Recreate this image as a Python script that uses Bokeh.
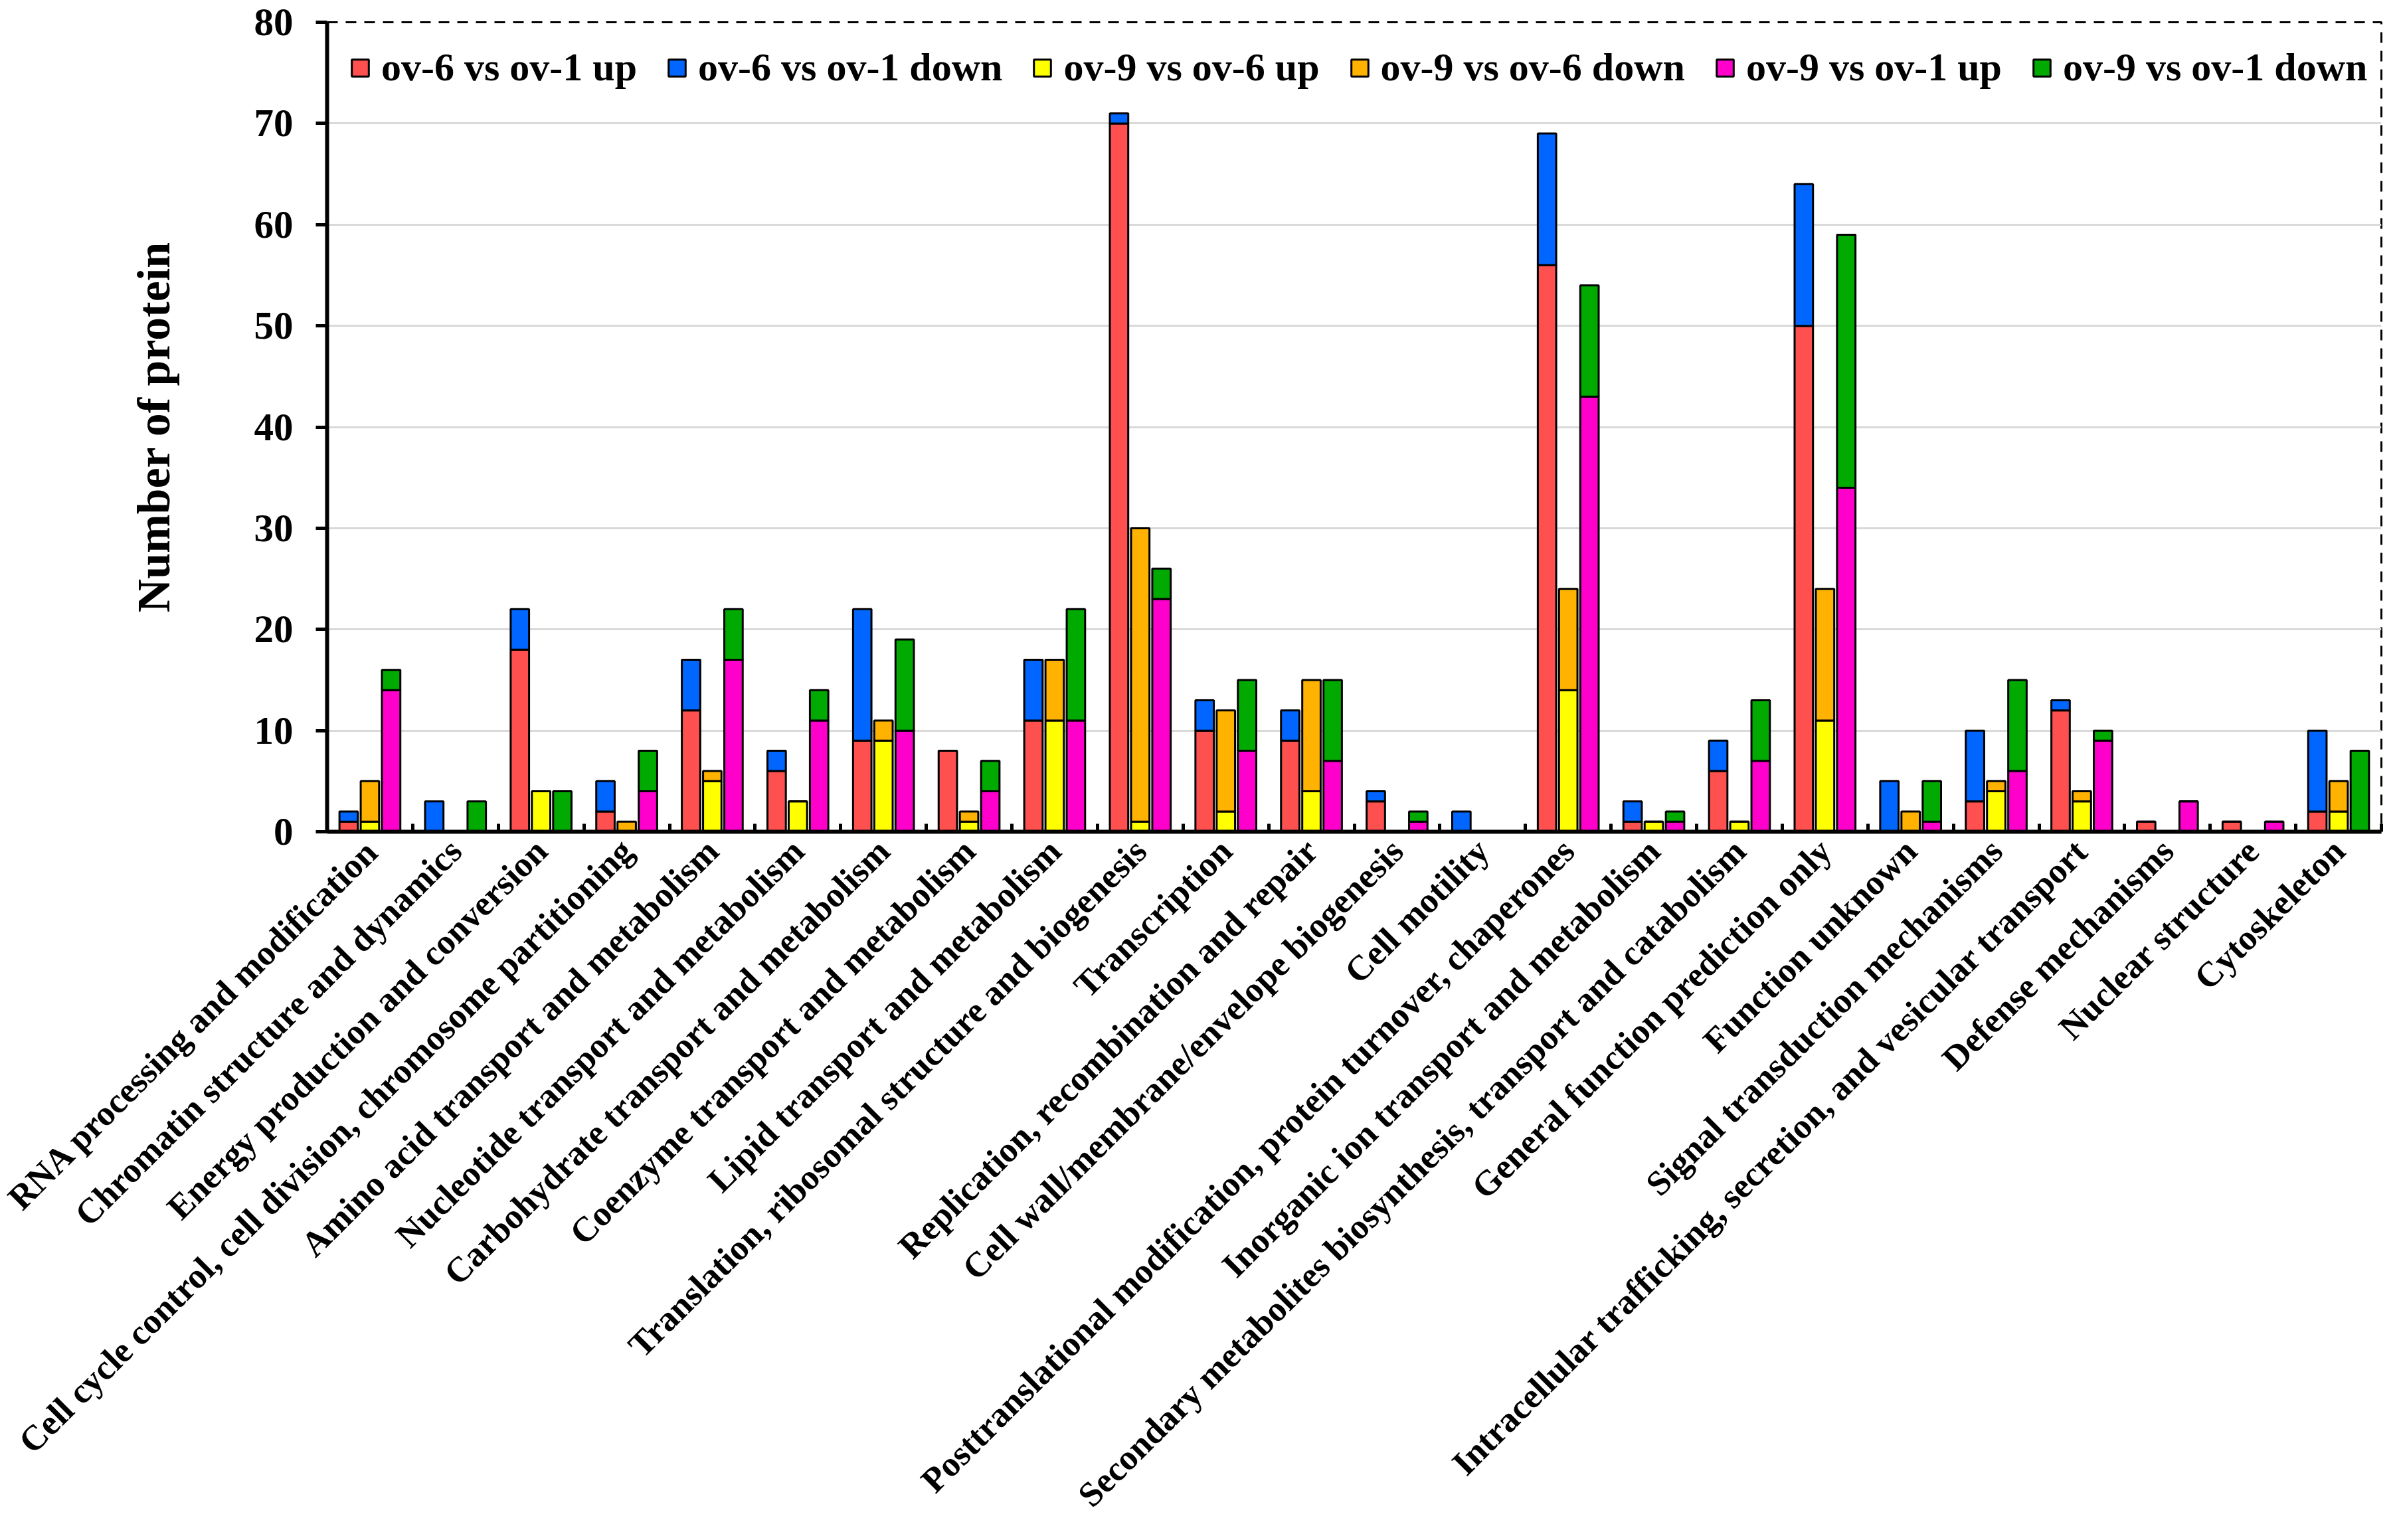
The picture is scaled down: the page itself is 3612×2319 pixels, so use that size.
from bokeh.plotting import figure
from bokeh.models import Range1d, FixedTicker, ColumnDataSource, Legend
from bokeh.embed import file_html
from bokeh.resources import INLINE

categories = [
    "RNA processing and modification",
    "Chromatin structure and dynamics",
    "Energy production and conversion",
    "Cell cycle control, cell division, chromosome partitioning",
    "Amino acid transport and metabolism",
    "Nucleotide transport and metabolism",
    "Carbohydrate transport and metabolism",
    "Coenzyme transport and metabolism",
    "Lipid transport and metabolism",
    "Translation, ribosomal structure and biogenesis",
    "Transcription",
    "Replication, recombination and repair",
    "Cell wall/membrane/envelope biogenesis",
    "Cell motility",
    "Posttranslational modification, protein turnover, chaperones",
    "Inorganic ion transport and metabolism",
    "Secondary metabolites biosynthesis, transport and catabolism",
    "General function prediction only",
    "Function unknown",
    "Signal transduction mechanisms",
    "Intracellular trafficking, secretion, and vesicular transport",
    "Defense mechanisms",
    "Nuclear structure",
    "Cytoskeleton",
]

ov6_ov1_up   = [1, 0, 18, 2, 12, 6, 9, 8, 11, 70, 10, 9, 3, 0, 56, 1, 6, 50, 0, 3, 12, 1, 1, 2]
ov6_ov1_down = [1, 3, 4, 3, 5, 2, 13, 0, 6, 1, 3, 3, 1, 2, 13, 2, 3, 14, 5, 7, 1, 0, 0, 8]
ov9_ov6_up   = [1, 0, 4, 0, 5, 3, 9, 1, 11, 1, 2, 4, 0, 0, 14, 1, 1, 11, 0, 4, 3, 0, 0, 2]
ov9_ov6_down = [4, 0, 0, 1, 1, 0, 2, 1, 6, 29, 10, 11, 0, 0, 10, 0, 0, 13, 2, 1, 1, 0, 0, 3]
ov9_ov1_up   = [14, 0, 0, 4, 17, 11, 10, 4, 11, 23, 8, 7, 1, 0, 43, 1, 7, 34, 1, 6, 9, 3, 1, 0]
ov9_ov1_down = [2, 3, 4, 4, 5, 3, 9, 3, 11, 3, 7, 8, 1, 0, 11, 1, 6, 25, 4, 9, 1, 0, 0, 8]

series_names = ["ov-6 vs ov-1 up", "ov-6 vs ov-1 down", "ov-9 vs ov-6 up",
                "ov-9 vs ov-6 down", "ov-9 vs ov-1 up", "ov-9 vs ov-1 down"]
colors = ["#FF5050", "#0066FF", "#FFFF00", "#FFB300", "#FF00CC", "#00AA00"]

y_ticks = [0, 10, 20, 30, 40, 50, 60, 70, 80]

FONT = "Liberation Serif"
n = len(categories)
idx = list(range(1, n + 1))
off = 0.248
bw = 0.215

src = ColumnDataSource(dict(
    x1=[i - off for i in idx], x2=idx, x3=[i + off for i in idx],
    a=ov6_ov1_up, b=ov6_ov1_down, c=ov9_ov6_up, d=ov9_ov6_down,
    e=ov9_ov1_up, f=ov9_ov1_down,
))

p = figure(width=3596, height=2303, x_range=Range1d(0.5, n + 0.5), y_range=Range1d(0, 80),
           output_backend="svg", toolbar_location=None)
p.min_border_left = 492
p.min_border_top = 33
p.min_border_right = 11
p.min_border_bottom = 1040
p.background_fill_color = "white"
p.border_fill_color = "white"
p.outline_line_color = "black"
p.outline_line_width = 3
p.outline_line_dash = "16 12"

r1 = p.vbar_stack(["a", "b"], x="x1", width=bw, source=src, fill_color=colors[0:2],
                  line_color="black", line_width=3)
r2 = p.vbar_stack(["c", "d"], x="x2", width=bw, source=src, fill_color=colors[2:4],
                  line_color="black", line_width=3)
r3 = p.vbar_stack(["e", "f"], x="x3", width=bw, source=src, fill_color=colors[4:6],
                  line_color="black", line_width=3)
renderers = r1 + r2 + r3

legend = Legend(items=[(nm, [r]) for nm, r in zip(series_names, renderers)],
                orientation="horizontal", location="top_left")
legend.margin = 34
legend.padding = 18
legend.spacing = 44
legend.label_standoff = 16
legend.glyph_width = 32
legend.glyph_height = 32
legend.label_height = 32
legend.label_text_font = FONT
legend.label_text_font_style = "bold"
legend.label_text_font_size = "60px"
legend.label_text_color = "black"
legend.border_line_color = None
legend.background_fill_alpha = 0
p.add_layout(legend)

# axes
xa = p.xaxis[0]
xa.ticker = FixedTicker(ticks=idx, minor_ticks=[i - 0.5 for i in idx] + [n + 0.5])
xa.major_label_overrides = {i: c for i, c in zip(idx, categories)}
xa.major_label_orientation = 3.14159265 / 4
xa.major_label_text_font = FONT
xa.major_label_text_font_style = "bold"
xa.major_label_text_font_size = "53px"
xa.major_label_text_color = "black"
xa.major_label_standoff = 20
xa.major_tick_line_color = None
xa.major_tick_in = 0
xa.major_tick_out = 0
xa.minor_tick_in = 12
xa.minor_tick_out = 0
xa.minor_tick_line_width = 5
xa.minor_tick_line_color = "black"
xa.axis_line_width = 6
xa.axis_line_color = "black"

ya = p.yaxis[0]
ya.ticker = FixedTicker(ticks=y_ticks)
ya.major_label_text_font = FONT
ya.major_label_text_font_style = "bold"
ya.major_label_text_font_size = "59px"
ya.major_label_text_color = "black"
ya.major_label_standoff = 34
ya.major_tick_in = 0
ya.major_tick_out = 17
ya.major_tick_line_width = 5
ya.minor_tick_line_color = None
ya.axis_line_width = 6
ya.axis_line_color = "black"
ya.axis_label = "Number of protein"
ya.axis_label_text_font = FONT
ya.axis_label_text_font_style = "bold"
ya.axis_label_text_font_size = "70px"
ya.axis_label_text_color = "black"
ya.axis_label_standoff = 110

p.xgrid.grid_line_color = None
p.ygrid.grid_line_color = "#D9D9D9"
p.ygrid.grid_line_width = 3

open("out.html", "w").write(file_html(p, INLINE))
